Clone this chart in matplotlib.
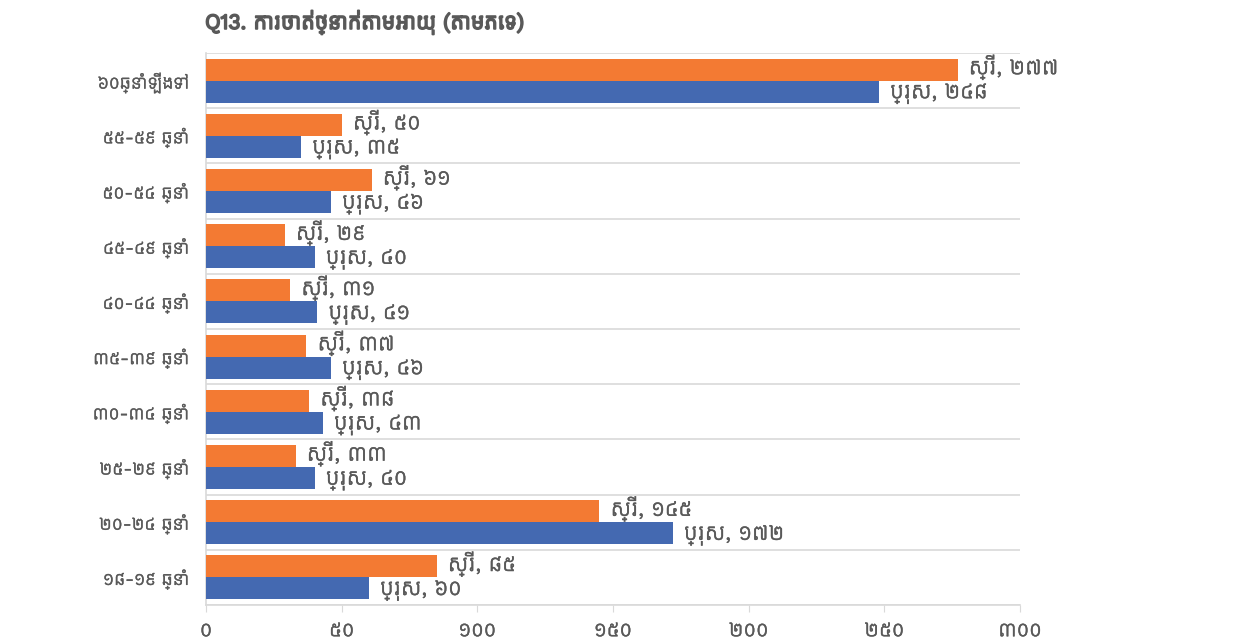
import numpy as np
import matplotlib
matplotlib.use('Agg')
import matplotlib.pyplot as plt
import matplotlib.patheffects as pe

plt.rcParams['font.family'] = ['Kantumruy Pro', 'Noto Sans Khmer', 'DejaVu Sans']

# age groups, bottom to top as drawn
ages = ['១៨-១៩ ឆ្នាំ', '២០-២៤ ឆ្នាំ', '២៥-២៩ ឆ្នាំ', '៣០-៣៤ ឆ្នាំ', '៣៥-៣៩ ឆ្នាំ',
        '៤០-៤៤ ឆ្នាំ', '៤៥-៤៩ ឆ្នាំ', '៥០-៥៤ ឆ្នាំ', '៥៥-៥៩ ឆ្នាំ', '៦០ឆ្នាំឡើងទៅ']
female = [85, 145, 33, 38, 37, 31, 29, 61, 50, 277]
male = [60, 172, 40, 43, 46, 41, 40, 46, 35, 248]
female_name = 'ស្រី'
male_name = 'ប្រុស'
xticks = [0, 50, 100, 150, 200, 250, 300]

KH = str.maketrans('0123456789', '០១២៣៤៥៦៧៨៩')


def kh(n):
    return str(n).translate(KH)


grey = '#595959'
orange = '#F37A33'
blue = '#4469B1'
thick = [pe.withStroke(linewidth=0.25, foreground=grey)]

fig = plt.figure(figsize=(12.58, 6.43), dpi=100)
ax = fig.add_axes([0.1638, 0.0591, 0.6470, 0.8585])

y = np.arange(len(ages))
h = 0.4
ax.barh(y + h / 2, female, height=h, color=orange, zorder=3)
ax.barh(y - h / 2, male, height=h, color=blue, zorder=3)

for i in range(len(ages)):
    ax.annotate(female_name + ', ' + kh(female[i]), (female[i], y[i] + h / 2),
                xytext=(8, 1.5), textcoords='offset points', va='center', ha='left',
                fontsize=16, color=grey, path_effects=thick)
    ax.annotate(male_name + ', ' + kh(male[i]), (male[i], y[i] - h / 2),
                xytext=(8, -1.5), textcoords='offset points', va='center', ha='left',
                fontsize=16, color=grey, path_effects=thick)

ax.set_xlim(0, 300)
ax.set_ylim(-0.5, len(ages) - 0.5)
ax.set_yticks(y)
ax.set_yticklabels(ages, fontsize=13, color=grey, path_effects=thick)
ax.set_xticks(xticks)
ax.set_xticklabels([kh(v) for v in xticks], fontsize=15, color=grey, path_effects=thick)
ax.set_yticks(np.arange(len(ages) + 1) - 0.5, minor=True)
ax.grid(axis='y', which='minor', color='#d9d9d9', linewidth=1.2, zorder=0)
ax.tick_params(axis='y', which='both', length=0, pad=12)
ax.tick_params(axis='x', length=5, color='#d9d9d9', pad=6)

for s in ['top', 'right']:
    ax.spines[s].set_visible(False)
for s in ['left', 'bottom']:
    ax.spines[s].set_color('#d9d9d9')
    ax.spines[s].set_linewidth(1.2)

fig.text(0.163, 0.965, 'Q13. ការចាត់ថ្នាក់តាមអាយុ (តាមភេទ)', fontsize=15.5,
         color=grey, ha='left', va='center',
         path_effects=[pe.withStroke(linewidth=1.3, foreground=grey)])

fig.savefig('out.png')
